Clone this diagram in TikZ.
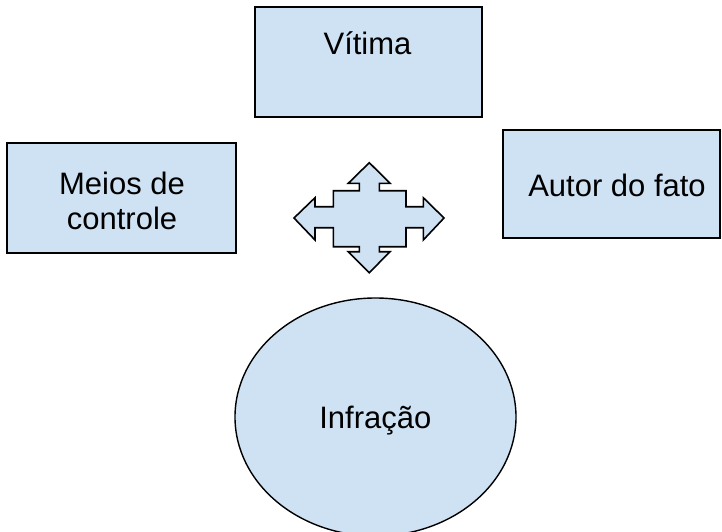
\documentclass[tikz,border=0pt]{standalone}
\usepackage{fontspec}
\setmainfont{Liberation Sans}
\usetikzlibrary{shapes.geometric}
\definecolor{boxfill}{HTML}{CFE2F3}
\tikzset{
  box/.style={draw=black, fill=boxfill, line width=1.8pt, rectangle, inner sep=0pt},
  oval/.style={draw=black, fill=boxfill, line width=1.4pt, ellipse, inner sep=0pt},
  txt/.style={inner sep=0pt, font=\fontsize{31}{35}\selectfont, align=center},
  cross/.style={draw=black, fill=boxfill, line width=1.6pt, line join=miter}
}
\begin{document}
\begin{tikzpicture}[x=1pt,y=-1pt]
\useasboundingbox (0,0) rectangle (722,532);
% boxes
\node[box, minimum width=227pt, minimum height=110pt] (vitima) at (368.5,62) {};
\node[txt, anchor=base] (vitimaT) at (367.5,55) {Vítima};
\node[box, minimum width=229pt, minimum height=110pt] (meios) at (121.5,198) {};
\node[txt, anchor=center] (meiosT) at (122,200.5) {Meios de\\controle};
\node[box, minimum width=217pt, minimum height=108pt] (autor) at (611.5,184) {};
\node[txt, anchor=base] (autorT) at (617,196) {Autor do fato};
% ellipse
\node[oval, minimum width=281pt, minimum height=238pt] (infra) at (375.5,417) {};
\node[txt, anchor=base] (infraT) at (375.3,428) {Infração};
% four-way arrow
\draw[cross] (369.3,162.7) -- (390,183.3) -- (379.3,183.3) -- (379.3,190.7)
  -- (406,190.7) -- (406,206.7) -- (423.3,206.7) -- (423.3,197.7) -- (444,218)
  -- (423.3,240) -- (423.3,227.7) -- (406,227.7) -- (406,246.7) -- (379.3,246.7)
  -- (379.3,251.7) -- (390,251.7) -- (369.3,272.7) -- (348.3,251.7) -- (359.3,251.7)
  -- (359.3,246.7) -- (333.3,246.7) -- (333.3,227.7) -- (315,227.7) -- (315,240)
  -- (294,218) -- (315,197.7) -- (315,206.7) -- (333.3,206.7) -- (333.3,190.7)
  -- (359.3,190.7) -- (359.3,183.3) -- (348.3,183.3) -- cycle;
\end{tikzpicture}
\end{document}
